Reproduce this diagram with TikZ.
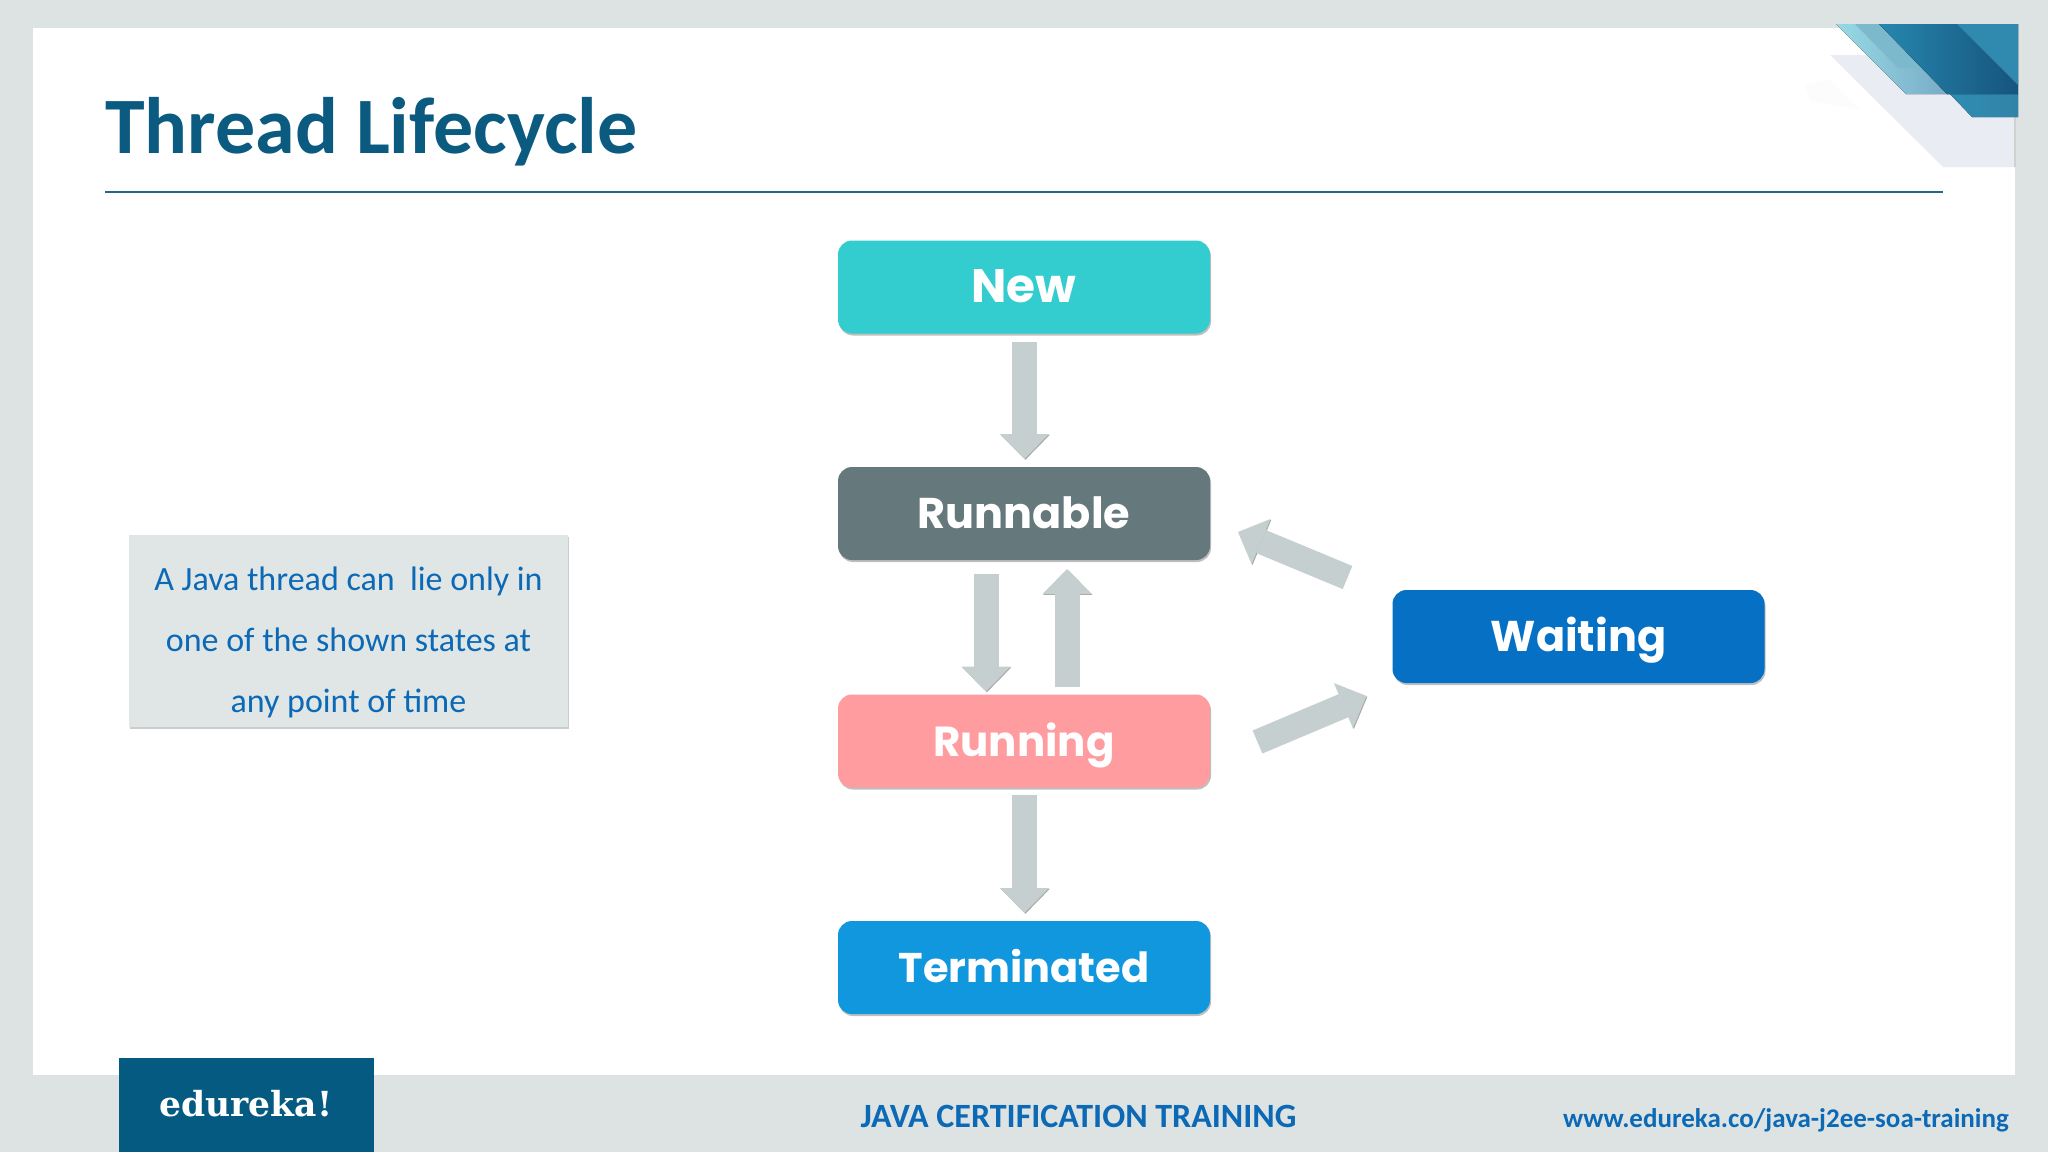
\documentclass[tikz,border=0pt]{standalone}
\usepackage{fontspec}
\setmainfont{Carlito}
\newfontfamily\boxfont{Poppins}
\newfontfamily\logofont{DejaVu Serif}
\usetikzlibrary{arrows.meta,shadows,calc}
\definecolor{pagebg}{HTML}{DDE3E2}
\definecolor{notebg}{HTML}{E0E6E6}
\definecolor{titleblue}{HTML}{0B5A80}
\definecolor{rulecol}{HTML}{1F6A80}
\definecolor{newc}{HTML}{33CDCF}
\definecolor{runnablec}{HTML}{65797C}
\definecolor{runningc}{HTML}{FE9C9F}
\definecolor{termc}{HTML}{1197DE}
\definecolor{waitc}{HTML}{0570C4}
\definecolor{arrowc}{HTML}{C6CFCF}
\definecolor{textblue}{HTML}{0B69B5}
\definecolor{logoc}{HTML}{055A82}
\tikzset{
  x=1pt,y=-1pt,
  statebox/.style={draw=none,rounded corners=14pt,minimum width=372pt,minimum height=93pt,inner sep=0pt,outer sep=0pt,
    text=white,font=\boxfont\bfseries\fontsize{#1}{#1}\selectfont,text height=30pt,text depth=0pt,
    drop shadow={shadow xshift=1pt,shadow yshift=-2pt,opacity=.25,fill=black}},
  blockarrow/.style={draw=arrowc,line width=25pt,line cap=butt,
    -{Triangle[length=25pt,width=49pt,line width=0pt]},
    preaction={draw=black!35,draw opacity=.45,transform canvas={xshift=.8pt,yshift=-.8pt}}},
  footertext/.style={inner sep=0pt,font=\bfseries\fontsize{34}{34}\selectfont,text=textblue}
}
\begin{document}
\begin{tikzpicture}
\useasboundingbox (0,0) rectangle (2048,1152);
\fill[pagebg] (0,0) rectangle (2048,1152);
\fill[white] (33,28) rectangle (2015,1075);
% corner decoration
\fill[black!1] (1805,85) -- (1830,80) -- (1860,110) -- (1810,100) -- cycle;
\fill[color={rgb,255:red,233;green,236;blue,243}] (1830,55) -- (2015,55) -- (2015,167) -- (1943,167) -- cycle;
\fill[black!18] (2014,117) rectangle (2016,167);
\fill[left color={rgb,255:red,150;green,218;blue,228},right color={rgb,255:red,120;green,170;blue,198}] (1836,24) -- (1882,24) -- (1950,94) -- (1906,94) -- cycle;
\fill[color={rgb,255:red,125;green,185;blue,205}] (1855,24) -- (1882,24) -- (1925,68) -- (1898,68) -- cycle;
\fill[left color={rgb,255:red,48;green,140;blue,178},right color={rgb,255:red,48;green,132;blue,168}] (1950,94) -- (2018,94) -- (2018,117) -- (1972,117) -- cycle;
\fill[left color={rgb,255:red,38;green,135;blue,175},right color={rgb,255:red,22;green,84;blue,125}] (1879,24) -- (2018,24) -- (2018,94) -- (1947,94) -- cycle;
\fill[color={rgb,255:red,48;green,138;blue,176}] (1957,24) -- (2018,24) -- (2018,85) -- cycle;
% title
\node[anchor=base west,inner sep=0pt,text=titleblue,font=\bfseries\fontsize{80}{80}\selectfont] (title) at (105,153) {Thread Lifecycle};
\coordinate (ruleL) at (105,192);
\coordinate (ruleR) at (1943,192);
\draw[rulecol,line width=1.6pt] (ruleL) -- (ruleR);
% states
\node[statebox=47,fill=newc] (new) at (1024,287) {New};
\node[statebox=43,fill=runnablec] (runnable) at (1024,513.5) {Runnable};
\node[statebox=42,fill=runningc] (running) at (1024,741) {Running};
\node[statebox=41.5,fill=termc] (terminated) at (1024,967.5) {Terminated};
\node[statebox=43,fill=waitc] (waiting) at (1578.5,636.5) {Waiting};
% connectors
\draw[blockarrow] ($(new.south)+(0.5,8)$) -- ($(runnable.north)+(0.5,-8)$);
\draw[blockarrow] ($(runnable.south)+(-38,14)$) -- ($(running.north)+(-38,-3)$);
\draw[blockarrow] ($(running.north)+(43,-8)$) -- ($(runnable.south)+(43,9)$);
\draw[blockarrow] ($(running.south)+(0.5,7)$) -- ($(terminated.north)+(0.5,-8)$);
\draw[blockarrow] ($(waiting.west)+(-45,-59)$) -- ($(runnable.east)+(28,18.5)$);
\draw[blockarrow] ($(running.east)+(47.5,1)$) -- ($(waiting.west)+(-26,59.5)$);
% callout
\node[fill=notebg,draw=none,minimum width=439pt,minimum height=192pt,inner sep=0pt,
  drop shadow={shadow xshift=1pt,shadow yshift=-1.5pt,opacity=.2,fill=black}] (note) at (348.5,631) {};
\node[inner sep=0pt,align=center,text=textblue,font=\fontsize{34}{61}\selectfont] (notetext) at (348.5,642)
  {A Java thread can~~lie only in\\one of the shown states at\\any point of time};
% footer
\node[fill=logoc,minimum width=255pt,minimum height=94pt,inner sep=0pt] (logo) at (246.5,1105) {};
\node[inner sep=0pt,text=white,font=\logofont\bfseries\fontsize{34.5}{34.5}\selectfont] (logotext) at (246,1104) {edureka!};
\node[footertext,anchor=base] (course) at (1078.5,1127.5) {JAVA CERTIFICATION TRAINING};
\node[footertext,anchor=base,font=\bfseries\fontsize{27}{27}\selectfont] (url) at (1786,1127) {www.edureka.co/java-j2ee-soa-training};
\end{tikzpicture}
\end{document}
